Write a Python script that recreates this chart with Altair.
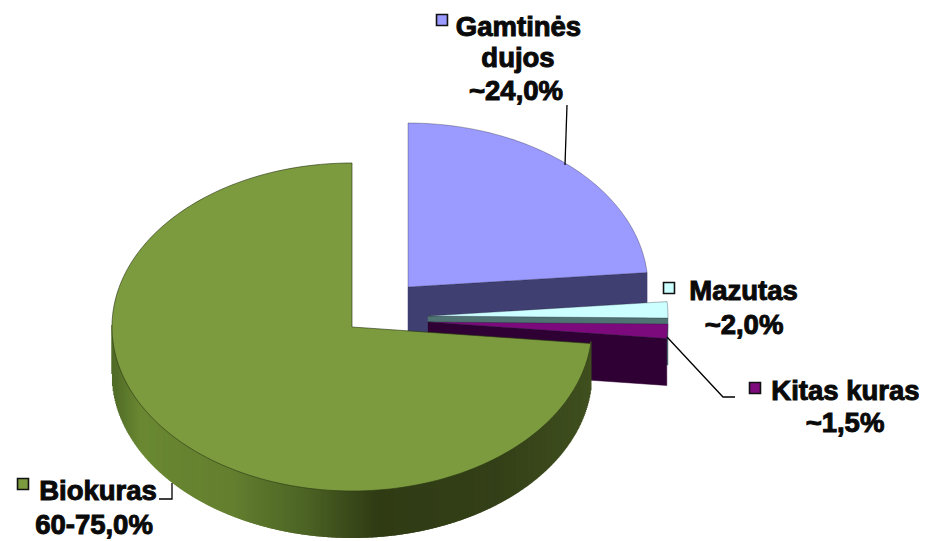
import math
import altair as alt
import pandas as pd

# Chart values (percent of the pie, clockwise from 12 o'clock)
slice_names = ["Gamtinės dujos", "Mazutas", "Kitas kuras", "Biokuras"]
slice_shares = [23.6, 1.6, 1.4, 73.4]
label_lines = [["Gamtinės", "dujos", "~24,0%"], ["Mazutas", "~2,0%"], ["Kitas kuras", "~1,5%"], ["Biokuras", "60-75,0%"]]

# Geometry / style (image pixels)
RX, RY, DEPTH = 240, 164, 47
centres = {"Gamtinės dujos": (408, 287), "Mazutas": (428, 316), "Kitas kuras": (428, 322), "Biokuras": (352, 327)}
face_col = {"Gamtinės dujos": "#9a9aff", "Mazutas": "#ccffff", "Kitas kuras": "#7d0a7d", "Biokuras": "#7c9a3e"}
wall_col = {"Gamtinės dujos": "#3f3f72", "Mazutas": "#4f7272", "Kitas kuras": "#2e0033"}
rim_stops = [0, 0.06, 0.25, 0.4, 0.55, 0.8, 1]
rim_colors = ["#4f6a26", "#6a8832", "#648030", "#4d6525", "#303c14", "#333f17", "#3f4f1e"]

X = alt.Scale(domain=[8, 919], range=[0, 911], nice=False, zero=False)
Y = alt.Scale(domain=[8, 541], range=[0, 533], nice=False, zero=False)


def arc_pts(c, a, b, dy=0):
    n = max(2, int(abs(a - b) / 1.5))
    return [(c[0] + RX * math.cos(math.radians(a + (b - a) * i / n)),
             c[1] + dy - RY * math.sin(math.radians(a + (b - a) * i / n))) for i in range(n + 1)]


def poly(pts, **mark):
    df = pd.DataFrame({"x": [p[0] for p in pts], "y": [p[1] for p in pts], "i": range(len(pts))})
    return alt.Chart(df).mark_line(interpolate="linear-closed", **mark).encode(
        x=alt.X("x:Q", scale=X, axis=None),
        y=alt.Y("y:Q", scale=Y, axis=None),
        order="i:Q",
    )


# Angles derived from the shares
angles = {}
t = 90.0
for name, share in zip(slice_names, slice_shares):
    angles[name] = (t, t - share * 3.6)
    t -= share * 3.6

layers = []
EDGE = dict(stroke="#1a1a2a", strokeWidth=0.7, strokeOpacity=0.45)
for name in slice_names[:3]:
    c = centres[name]
    a, b = angles[name]
    end = arc_pts(c, b, b)[0]
    # cut face and outer rim
    layers.append(poly([c, end, (end[0], end[1] + DEPTH), (c[0], c[1] + DEPTH)],
                       fill=wall_col[name], stroke=wall_col[name], strokeWidth=0.5))
    layers.append(poly([c] + arc_pts(c, a, b), fill=face_col[name], **EDGE))

# Biokuras rim: closely spaced vertical strokes shaded through a colour scale, then its top face
c = centres["Biokuras"]
a, b = angles["Biokuras"]
x_left = c[0] - RX
x_right = c[0] + RX * math.cos(math.radians(a))
rim_rows = []
n_cols = int((x_right - x_left) * 1.5)
for i in range(n_cols + 1):
    xx = x_left + (x_right - x_left) * i / n_cols
    u = max(-1.0, min(1.0, (xx - c[0]) / RX))
    yy = c[1] + RY * math.sqrt(1 - u * u)
    rim_rows.append({"x": xx, "y": yy - 2, "y2": yy + DEPTH, "f": (xx - x_left) / (x_right - x_left)})
layers.append(alt.Chart(pd.DataFrame(rim_rows)).mark_rule(strokeWidth=1.4, opacity=1).encode(
    x=alt.X("x:Q", scale=X, axis=None),
    y=alt.Y("y:Q", scale=Y, axis=None),
    y2="y2:Q",
    color=alt.Color("f:Q", scale=alt.Scale(domain=rim_stops, range=rim_colors), legend=None),
))
layers.append(poly([c] + arc_pts(c, a, b), fill=face_col["Biokuras"], stroke="#2c3a14", strokeWidth=0.8, strokeOpacity=0.8))

# Leader lines
leaders = [
    [(567, 105), (565, 165)],
    [(667, 337), (723, 397), (735, 397)],
    [(159, 499), (172, 499), (172, 483)],
]
for pts in leaders:
    df = pd.DataFrame({"x": [p[0] for p in pts], "y": [p[1] for p in pts], "i": range(len(pts))})
    layers.append(alt.Chart(df).mark_line(color="black", strokeWidth=1.3).encode(
        x=alt.X("x:Q", scale=X, axis=None), y=alt.Y("y:Q", scale=Y, axis=None), order="i:Q"))

# Legend squares
sq = pd.DataFrame({"x": [442, 669, 755, 23], "y": [20, 288, 388, 484], "name": slice_names})
layers.append(alt.Chart(sq).mark_point(shape="square", filled=True, size=120, stroke="#111", strokeWidth=1.6, opacity=1).encode(
    x=alt.X("x:Q", scale=X, axis=None), y=alt.Y("y:Q", scale=Y, axis=None),
    fill=alt.Fill("name:N", scale=alt.Scale(domain=slice_names, range=[face_col[n] for n in slice_names]), legend=None),
))

# Text
label_pos = [[(518.5, 28), (518, 59), (516, 92)], [(743.5, 292), (744, 326)], [(845.5, 392), (845, 424)], [(98, 492), (94, 526)]]
rows = []
for lines, poss in zip(label_lines, label_pos):
    for txt, (x, y) in zip(lines, poss):
        rows.append({"x": x, "y": y, "t": txt})
layers.append(alt.Chart(pd.DataFrame(rows)).mark_text(
    font="Liberation Sans", fontWeight="bold", fontSize=27.5, color="#0a0a0a", stroke="#0a0a0a", strokeWidth=1, align="center", baseline="middle"
).encode(x=alt.X("x:Q", scale=X, axis=None), y=alt.Y("y:Q", scale=Y, axis=None), text="t:N"))

chart = (
    alt.layer(*layers)
    .resolve_scale(color="independent", fill="independent")
    .properties(width=911, height=533, padding=0, background="white",
                autosize=alt.AutoSizeParams(type="none"))
    .configure_view(stroke=None)
)
chart.save("out.html", embed_options={"renderer": "svg", "actions": False})
